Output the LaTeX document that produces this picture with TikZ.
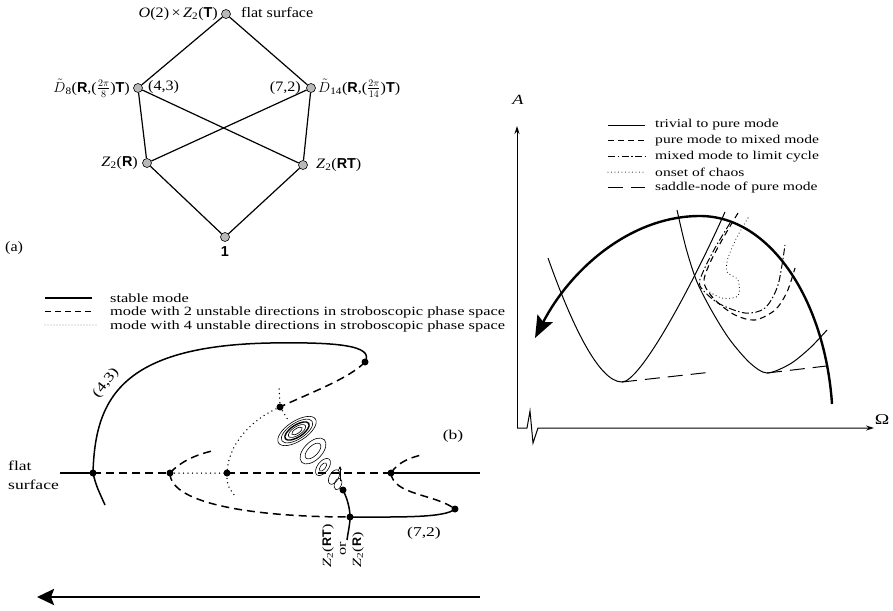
\documentclass[tikz,border=0pt]{standalone}
\usepackage{fontspec}
\setmainfont{Liberation Serif}
\newfontfamily\famA{Liberation Serif}[FakeStretch=1.12]
\newfontfamily\famB{Liberation Serif}[FakeStretch=1.3]
\newfontfamily\famH{Liberation Sans}
\usetikzlibrary{arrows.meta}
\tikzset{
  lat/.style={circle, draw=black, line width=0.6pt, fill=gray!55, minimum size=9pt, inner sep=0pt},
  edge/.style={line width=1.2pt},
  lbla/.style={font=\famA\fontsize{14.4}{16}\selectfont, inner sep=0pt},
  lblb/.style={font=\famB\fontsize{13.5}{20}\selectfont, inner sep=0pt},
  lgd/.style={font=\famB\fontsize{12.6}{14}\selectfont, inner sep=0pt, anchor=base west},
  lgr/.style={font=\famB\fontsize{12}{14}\selectfont, inner sep=0pt, anchor=west},
  bdot/.style={circle, fill=black, minimum size=7pt, inner sep=0pt},
  sol/.style={line width=1.5pt},
  dsh/.style={line width=1.5pt, dash pattern=on 8pt off 5pt},
  dtt/.style={line width=1.5pt, dash pattern=on 0pt off 4.5pt, line cap=round},
  spir/.style={line width=0.6pt},
  rsol/.style={line width=1pt},
  rdsh/.style={line width=1.1pt, dash pattern=on 6pt off 4pt},
  rdd/.style={line width=1pt, dash pattern=on 7pt off 2.5pt on 1.5pt off 2.5pt},
  rdot/.style={line width=1.1pt, dash pattern=on 0pt off 3.5pt, line cap=round},
  rlong/.style={line width=1pt, dash pattern=on 15pt off 8pt},
}
\newcommand{\bR}{{\famH\bfseries R}}
\newcommand{\bT}{{\famH\bfseries T}}
\begin{document}
\begin{tikzpicture}[x=1pt,y=-1pt]
\useasboundingbox (0,0) rectangle (893,610);
% ---------- (a) lattice ----------
\node[lat] (top) at (226,14) {};
\node[lat] (d8) at (138,88) {};
\node[lat] (d14) at (311,88) {};
\node[lat] (zr) at (147,163) {};
\node[lat] (zrt) at (303,165) {};
\node[lat] (one) at (225,237) {};
\draw[edge] (top) -- (d8);
\draw[edge] (top) -- (d14);
\draw[edge] (d8) -- (zr);
\draw[edge] (d8) -- (zrt);
\draw[edge] (d14) -- (zr);
\draw[edge] (d14) -- (zrt);
\draw[edge] (zr) -- (one);
\draw[edge] (zrt) -- (one);
\node[lbla, anchor=east] (ltop) at (218,14) {\textit{O}(2)\,×\,\textit{Z}\textsubscript{2}(\bT)};
\node[lbla, anchor=west] (lflat) at (241,13) {flat surface};
\node[lbla, anchor=east] (ld8) at (130,88) {$\tilde{D}$\textsubscript{8}(\bR,($\frac{2\pi}{8}$)\bT)};
\node[lbla, anchor=west] (l43) at (148,87) {(4,3)};
\node[lbla, anchor=east] (l72) at (301,88) {(7,2)};
\node[lbla, anchor=west] (ld14) at (318,88) {$\tilde{D}$\textsubscript{14}(\bR,($\frac{2\pi}{14}$)\bT)};
\node[lbla, anchor=east] (lzr) at (138,163) {\textit{Z}\textsubscript{2}(\bR)};
\node[lbla, anchor=west] (lzrt) at (316,165) {\textit{Z}\textsubscript{2}(\bR\bT)};
\node[lbla] (lone) at (225,252) {{\famH\bfseries 1}};
\node[lbla, anchor=west] (la) at (5,248) {(a)};
% ---------- (b) legend ----------
\coordinate (g1a) at (45,298); \coordinate (g1b) at (92,298);
\coordinate (g2a) at (45,311.5); \coordinate (g2b) at (92,311.5);
\coordinate (g3a) at (45,325); \coordinate (g3b) at (97,325);
\draw[line width=1.1pt] (g1a) -- (g1b);
\draw[line width=1.3pt, dash pattern=on 6pt off 4pt] (g2a) -- (g2b);
\draw[line width=0.9pt, dash pattern=on 0pt off 3pt, line cap=round] (g3a) -- (g3b);
\node[lgd] (t1) at (110,302) {stable mode};
\node[lgd] (t2) at (110,315.5) {mode with 2 unstable directions in stroboscopic phase space};
\node[lgd] (t3) at (110,329) {mode with 4 unstable directions in stroboscopic phase space};
% ---------- (b) diagram ----------
\node[bdot] (n0) at (93,473) {};
\node[bdot] (n1) at (365,362) {};
\node[bdot] (n2) at (280,407) {};
\node[bdot] (n3) at (170,473) {};
\node[bdot] (n4) at (227,473) {};
\node[bdot] (n5) at (391,473) {};
\node[bdot] (n6) at (350,517) {};
\node[bdot] (n7) at (455,509) {};
\node[bdot] (n8) at (343,490) {};
\coordinate (fsl) at (60,473);
\coordinate (fsr) at (480,473);
\coordinate (a43) at (105,505);
\coordinate (dtop) at (279,385);
\coordinate (dbot) at (235,496);
\coordinate (dsp) at (288,420);
\coordinate (d3u) at (212,451);
\coordinate (d5u) at (421,455);
\coordinate (zb) at (347,540);
\draw[sol] (fsl) -- (n0.center);
\draw[sol] (a43) .. controls (96,485) .. (n0.center)
  .. controls (95,400) and (120,346) .. (270,343)
  .. controls (335,342) and (375,345) .. (n1.center);
\draw[dsh] (n1.center) .. controls (350,378) and (310,393) .. (n2.center);
\draw[dtt] (n2.center) -- (dtop);
\draw[dtt] (n2.center) -- (dsp);
\draw[dtt] (n2.center) .. controls (250,420) and (228,445) .. (n4.center)
  .. controls (227,485) .. (dbot);
\draw[dsh] (n0.center) -- (n3.center);
\draw[dtt] (n3.center) -- (n4.center);
\draw[dsh] (n4.center) -- (n5.center);
\draw[sol] (n5.center) -- (fsr);
\draw[dsh] (n3.center) .. controls (180,462) and (195,455) .. (d3u);
\draw[dsh] (n3.center) .. controls (170,505) and (260,517) .. (n6.center);
\draw[sol] (n6.center) .. controls (400,517) and (445,518) .. (n7.center);
\draw[dsh] (n5.center) .. controls (393,495) and (435,494) .. (n7.center);
\draw[dsh] (n5.center) .. controls (398,462) and (410,458) .. (d5u);
\draw[sol] (n8.center) .. controls (348,500) and (350,510) .. (n6.center)
  .. controls (350,525) and (348,532) .. (zb);
% chaotic spirals
\begin{scope}[spir]
\foreach \a/\b in {22/10,18/8,10/4.3,6/2.5}
  \draw[rotate around={33:(297,431)}] (297,431) ellipse [x radius=\a, y radius=\b];
\draw[line width=1.4pt, rotate around={33:(297,431)}] (297,431) ellipse [x radius=14, y radius=6];
\foreach \a/\b in {16/9,10/5}
  \draw[rotate around={45:(313,451)}] (313,451) ellipse [x radius=\a, y radius=\b];
\foreach \a/\b in {10/5.5,5/2.5}
  \draw[rotate around={52:(323,467)}] (323,467) ellipse [x radius=\a, y radius=\b];
\draw[rotate around={60:(334,477)}] (334,477) ellipse [x radius=8, y radius=4.5];
\draw[rotate around={70:(338,484)}] (338,484) ellipse [x radius=6, y radius=3.5];
\end{scope}
\coordinate (sa1) at (340,481); \coordinate (sa2) at (340,466);
\draw[line width=0.7pt, -{Stealth[length=4pt,width=3.5pt]}] (sa1) -- (sa2);
\node[lblb, anchor=west] (lflat2) at (8,476) {\begin{tabular}{@{}l@{}}flat\\[-1pt]surface\end{tabular}};
\node[lblb, rotate=52] (l43b) at (106,383) {(4,3)};
\node[lblb] (lb) at (453,436) {(b)};
\node[lblb] (l72b) at (424,533) {(7,2)};
\node[lblb, rotate=90, font=\famB\fontsize{12.5}{14}\selectfont] (zrtb) at (328,546) {\textit{Z}\textsubscript{2}(\bR\bT)};
\node[lblb, rotate=90, font=\famB\fontsize{12.5}{14}\selectfont] (orb) at (343,549) {or};
\node[lblb, rotate=90, font=\famB\fontsize{12.5}{14}\selectfont] (zrb) at (358,550) {\textit{Z}\textsubscript{2}(\bR)};
\coordinate (ba1) at (480,597); \coordinate (ba2) at (37,597);
\draw[line width=2.6pt, -{Stealth[length=17pt,width=16pt,inset=3pt]}] (ba1) -- (ba2);
% ---------- right panel ----------
\coordinate (o) at (517,428);
\coordinate (ytop) at (517,126);
\coordinate (xend) at (874,428);
\draw[line width=1pt, -{Stealth[length=8pt,width=5pt]}] (o) -- (ytop);
\draw[line width=1pt, -{Stealth[length=8pt,width=5pt]}] (o) -- (527,428) -- (530,411) -- (533,443) -- (538,428) -- (xend);
\node[font=\famB\fontsize{14}{16}\selectfont\itshape] (alab) at (518,100) {A};
\node[font=\famB\fontsize{15}{16}\selectfont] (olab) at (882,420) {Ω};
% legend
\foreach \i/\st/\txt in {0/rsol/trivial to pure mode, 1/rdsh/pure mode to mixed mode, 2/rdd/mixed mode to limit cycle, 3/rdot/onset of chaos, 4/rlong/saddle-node of pure mode}{
  \draw[\st] (608,125+15.7*\i) -- (645,125+15.7*\i);
  \node[lgr] (rl\i) at (655,125+15.7*\i) {\txt};
}
% curves
\coordinate (v1a) at (548,258); \coordinate (v1m) at (622,382); \coordinate (v1b) at (725,212);
\draw[rsol] (v1a) .. controls (570,320) and (598,382) .. (v1m) .. controls (640,382) and (690,290) .. (v1b);
\draw[rsol] plot[smooth] coordinates {(677,210) (686,248) (697,282) (713,313) (730,340) (750,363) (767,373) (790,364) (810,348) (827,330)};
\draw[rlong] (622,382) -- (712,372);
\draw[rlong] (767,373) -- (835,365);
\draw[rdsh] plot[smooth] coordinates {(738,213) (722,240) (709,265) (704,283) (715,300) (735,315) (755,320) (775,310) (787,292) (795,268)};
\draw[rdd] plot[smooth] coordinates {(730,223) (715,248) (703,272) (700,286) (718,303) (745,313) (765,308) (778,285) (785,245)};
\draw[rdot] plot[smooth] coordinates {(748,218) (737,237) (728,258) (727,272) (738,280) (738,296) (722,298) (708,291)};
\coordinate (arcb) at (832,404);
\coordinate (arct) at (700,216);
\coordinate (arce) at (535,338);
\draw[line width=2.4pt, -{Stealth[length=22pt,width=17pt,inset=4pt]}] (arcb) .. controls (825,300) and (770,216) .. (arct)
  .. controls (630,216) and (570,270) .. (arce);
\end{tikzpicture}
\end{document}
